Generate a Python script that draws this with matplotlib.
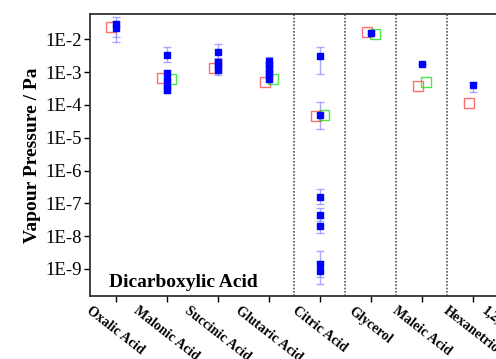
import numpy as np
import matplotlib
matplotlib.use('Agg')
import matplotlib.pyplot as plt
from matplotlib.ticker import LogLocator, FixedLocator, FuncFormatter

plt.rcParams['font.family'] = ['Liberation Serif', 'DejaVu Serif']

# categories along the x axis (last one is cut off at the right edge)
categories = ['Oxalic Acid', 'Malonic Acid', 'Succinic Acid', 'Glutaric Acid',
              'Citric Acid', 'Glycerol', 'Maleic Acid', 'Hexanetriol',
              '1,2,6-Hexanetriol']

# blue: measured values with lower / upper bounds (category index, 1-based)
blue_cat = [1, 1,
            2, 2, 2, 2, 2,
            3, 3, 3, 3,
            4, 4, 4, 4, 4,
            5, 5, 5, 5, 5, 5, 5,
            6, 7, 8]
blue_val = [2.9e-2, 2.2e-2,
            3.3e-3, 9.4e-4, 5.7e-4, 3.8e-4, 2.8e-4,
            4.0e-3, 2.1e-3, 1.7e-3, 1.16e-3,
            2.2e-3, 1.6e-3, 1.15e-3, 8.5e-4, 6.2e-4,
            3.2e-3, 4.9e-5, 1.6e-7, 4.4e-8, 2.1e-8, 1.4e-9, 8.7e-10,
            1.6e-2, 1.74e-3, 4.0e-4]
blue_lo = [8.5e-3, 1.2e-2,
           2.0e-3, 6.0e-4, 4.0e-4, 2.6e-4, 2.3e-4,
           2.5e-3, 1.4e-3, 1.2e-3, 8.1e-4,
           1.6e-3, 1.2e-3, 8.5e-4, 6.2e-4, 5.0e-4,
           8.6e-4, 1.8e-5, 9.5e-8, 2.9e-8, 1.23e-8, 5.5e-10, 3.5e-10,
           1.4e-2, 1.74e-3, 2.4e-4]
blue_hi = [4.8e-2, 3.5e-2,
           5.7e-3, 1.2e-3, 8.0e-4, 5.5e-4, 3.5e-4,
           7.0e-3, 2.6e-3, 2.2e-3, 1.5e-3,
           2.8e-3, 2.1e-3, 1.5e-3, 1.1e-3, 8.0e-4,
           5.7e-3, 1.26e-4, 2.7e-7, 7.4e-8, 3.5e-8, 3.5e-9, 1.8e-9,
           1.8e-2, 1.74e-3, 5.1e-4]

# red open squares
red_cat = [1, 2, 3, 4, 5, 6, 7, 8]
red_val = [2.4e-2, 6.5e-4, 1.3e-3, 5.1e-4, 4.6e-5, 1.7e-2, 3.9e-4, 1.17e-4]

# green open squares
green_cat = [2, 4, 5, 6, 7]
green_val = [6.2e-4, 6.2e-4, 4.8e-5, 1.45e-2, 4.9e-4]

dividers = [4.5, 5.5, 6.5, 7.5, 8.5]

fig = plt.figure(figsize=(4.96, 3.59), dpi=100)
ax = fig.add_axes([0.1815, 0.1755, 0.926, 0.7855])
ax.set_yscale('log')

bx = np.array(blue_cat, dtype=float)
bv = np.array(blue_val)
yerr = [bv - np.array(blue_lo), np.array(blue_hi) - bv]
ax.errorbar(bx, bv, yerr=yerr, fmt='none', ecolor='#8c8cff', elinewidth=1,
            capsize=3, capthick=1, alpha=0.75, zorder=2)

ax.plot(np.array(red_cat) - 0.08, red_val, 's', ms=7, mfc='none',
        mec='#ff3030', mew=1.0, alpha=0.7, zorder=3)
ax.plot(np.array(green_cat) + 0.08, green_val, 's', ms=7, mfc='none',
        mec='#20e020', mew=1.0, alpha=0.8, zorder=3)
ax.plot(bx, bv, 's', ms=4.5, color='#0000ff', zorder=4)

for d in dividers:
    ax.axvline(d, color='#555555', ls=(0, (1, 1)), lw=1.2, zorder=1)

ax.set_xlim(0.5, 9.5)
ax.set_ylim(1.5e-10, 5.9e-2)

ax.xaxis.set_major_locator(FixedLocator(range(1, len(categories) + 1)))
ax.set_xticklabels(categories, rotation=-38, ha='center', va='top',
                   fontsize=10, fontweight='bold')

ax.yaxis.set_major_locator(FixedLocator([10.0**k for k in range(-9, -1)]))
ax.yaxis.set_major_formatter(FuncFormatter(lambda v, p: '1E%d' % round(np.log10(v))))
ax.yaxis.set_minor_locator(LogLocator(base=10, subs=np.arange(2, 10)))
ax.tick_params(axis='y', which='major', direction='out', length=4, width=1,
               labelsize=13.5, pad=2)
ax.tick_params(axis='y', which='minor', direction='out', length=2, width=0.7)
ax.tick_params(axis='x', which='major', direction='out', length=4, width=1, pad=2)

for s in ax.spines.values():
    s.set_color('#333333')
    s.set_linewidth(1.3)

ax.set_ylabel('Vapour Pressure / Pa', fontsize=14, fontweight='bold', labelpad=3)
ax.text(0.88, 10**-9.4, 'Dicarboxylic Acid', fontsize=14, fontweight='bold',
        va='center', ha='left')

fig.savefig('out.png', dpi=100)
